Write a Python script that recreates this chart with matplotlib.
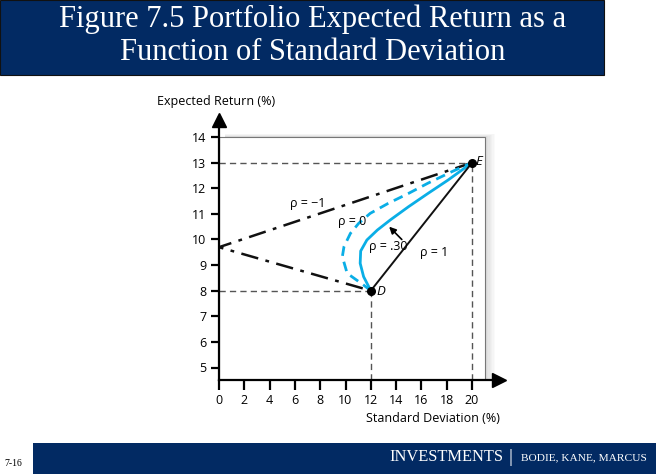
import numpy as np
import matplotlib.pyplot as plt
from matplotlib.patches import Rectangle

# Portfolio points
d_pt = (12, 8)
e_pt = (20, 13)

# rho = -1 (through the zero-risk point on the vertical axis)
neg_x = [20, 0, 12]
neg_y = [13, 9.7, 8]

# rho = 0
r0_x = [12, 11.43, 10.13, 9.75, 9.88, 10.39, 11.04, 11.95, 13.37, 14.98, 16.52, 18.41, 20]
r0_y = [8, 8.22, 8.68, 9.33, 9.72, 10.24, 10.63, 11.02, 11.41, 11.8, 12.2, 12.65, 13]

# rho = .30
r3_x = [12, 11.43, 11.16, 11.2, 11.69, 12.52, 13.53, 14.98, 16.52, 18.1, 20]
r3_y = [8, 8.55, 9.07, 9.55, 9.98, 10.37, 10.76, 11.28, 11.8, 12.32, 13]

# rho = 1
r1_x = [12, 20]
r1_y = [8, 13]

xticks = list(range(0, 21, 2))
yticks = list(range(5, 15))

navy = '#022a63'
cyan = '#0aaee6'
W, H = 656, 474

fig = plt.figure(figsize=(W/100, H/100), dpi=100)
plt.rcParams['font.family'] = ['Open Sans', 'DejaVu Sans']

# title bar
fig.add_artist(Rectangle((0, 1-75/H), 604/W, 75/H, transform=fig.transFigure,
                         facecolor=navy, edgecolor='#111111', lw=0.8))
fig.text(313/W, 1-19/H, 'Figure 7.5 Portfolio Expected Return as a', color='white',
         fontsize=22, family='Liberation Serif', ha='center', va='center')
fig.text(313/W, 1-53/H, 'Function of Standard Deviation', color='white',
         fontsize=22, family='Liberation Serif', ha='center', va='center')

# footer bar
fig.add_artist(Rectangle((33/W, 0), 1-33/W, 31/H, transform=fig.transFigure,
                         facecolor=navy, edgecolor='none'))
fig.text(4/W, 11/H, '7-16', color='black', fontsize=7, family='Liberation Serif',
         ha='left', va='center')
fig.text(503/W, 17/H, 'INVESTMENTS', color='white', fontsize=11.8,
         family='Liberation Serif', ha='right', va='center')
fig.text(511/W, 17/H, '|', color='white', fontsize=14,
         family='Liberation Serif', ha='center', va='center')
fig.text(647/W, 16/H, 'BODIE, KANE, MARCUS', color='white', fontsize=8.2,
         family='Liberation Serif', ha='right', va='center')

# chart axes: x 0 -> px 219, 12.65 px/unit ; y 13 -> px 162.7, 25.6 px/unit
xmax, ymin, ymax = 22.4, 4.5, 14.8
left, bottom_px = 219, 380.3
ax = fig.add_axes([left/W, (H-bottom_px)/H, xmax*12.65/W, (ymax-ymin)*25.6/H])
ax.set_xlim(0, xmax)
ax.set_ylim(ymin, ymax)
ax.patch.set_alpha(0)
for s in ['top', 'right']:
    ax.spines[s].set_visible(False)
for s in ['left', 'bottom']:
    ax.spines[s].set_linewidth(1.6)
    ax.spines[s].set_zorder(6)
ax.plot([0], [ymax - 0.15], marker='^', color='black', ms=10, clip_on=False, zorder=7)
ax.plot([xmax - 0.3], [ymin], marker='>', color='black', ms=10, clip_on=False, zorder=7)

# panel with soft shadow
for i in range(8):
    off = (8 - i) * 0.1
    ax.add_patch(Rectangle((0.5, ymin), 21 + off - 0.5, 14 + off * 0.15 - ymin,
                           facecolor='black', alpha=0.018, edgecolor='none', zorder=0))
ax.add_patch(Rectangle((0, ymin), 21, 14 - ymin, facecolor='white',
                       edgecolor='#777777', lw=0.8, zorder=1))

ax.set_xticks(xticks)
ax.set_yticks(yticks)
ax.tick_params(axis='both', direction='out', width=1.6, color='black',
               labelsize=9, pad=3)
ax.tick_params(axis='x', length=7)
ax.tick_params(axis='y', length=6)

# guide lines
dash = (0, (4.5, 3))
ax.plot([0, 20], [13, 13], color='#555555', lw=1, ls=dash, zorder=2)
ax.plot([20, 20], [ymin, 13], color='#555555', lw=1, ls=dash, zorder=2)
ax.plot([0, 12], [8, 8], color='#555555', lw=1, ls=dash, zorder=2)
ax.plot([12, 12], [ymin, 8], color='#555555', lw=1, ls=dash, zorder=2)

# frontiers
ax.plot(neg_x, neg_y, color='#111111', lw=1.8, ls=(0, (7, 3, 1.5, 3)), zorder=3)
ax.plot(r0_x, r0_y, color=cyan, lw=2, ls=(0, (3.5, 2.2)), zorder=3)
ax.plot(r3_x, r3_y, color=cyan, lw=2, zorder=3)
ax.plot(r1_x, r1_y, color='#111111', lw=1.4, zorder=3)
ax.plot([d_pt[0], e_pt[0]], [d_pt[1], e_pt[1]], 'o', color='black', ms=5.5, zorder=5)

ax.text(12.45, 7.95, 'D', fontsize=9.5, style='italic', va='center', ha='left', zorder=5)
ax.text(20.3, 13.05, 'E', fontsize=9.5, style='italic', va='center', ha='left', zorder=5)

ax.text(7.0, 11.39, 'ρ = −1', fontsize=9, ha='center', va='center', zorder=4)
ax.text(10.5, 10.72, 'ρ = 0', fontsize=9, ha='center', va='center', zorder=4)
ax.text(13.35, 9.71, 'ρ = .30', fontsize=9, ha='center', va='center', zorder=4)
ax.text(17.0, 9.5, 'ρ = 1', fontsize=9, ha='center', va='center', zorder=4)
ax.annotate('', xy=(13.45, 10.5), xytext=(14.45, 10.0),
            arrowprops=dict(arrowstyle='-|>', color='black', lw=1.2,
                            mutation_scale=10, shrinkA=0, shrinkB=0), zorder=4)

fig.text(157/W, 1-102/H, 'Expected Return (%)', fontsize=9, ha='left', va='center')
fig.text(500/W, 1-418/H, 'Standard Deviation (%)', fontsize=9, ha='right', va='center')

fig.savefig('out.png', dpi=100)
